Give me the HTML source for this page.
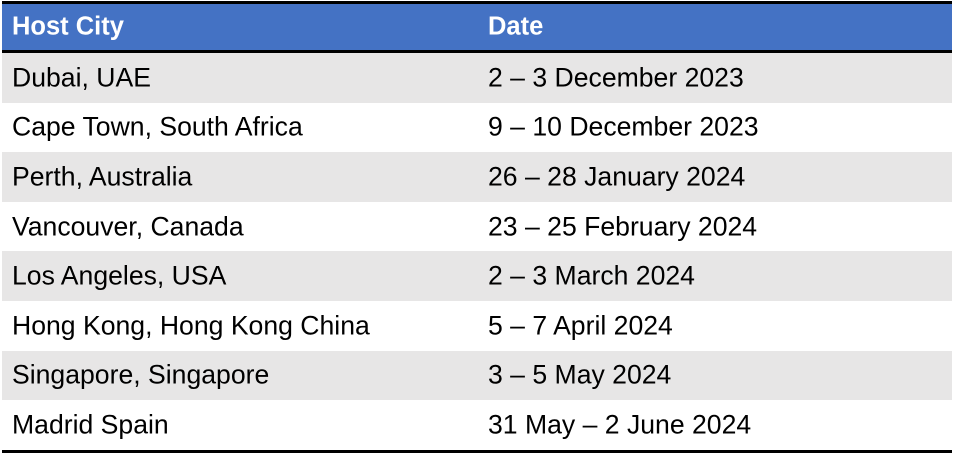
<!DOCTYPE html>
<html><head><meta charset="utf-8"><style>
html,body{margin:0;padding:0;width:954px;height:454px;background:#fff;overflow:hidden}
.t{position:absolute;left:2px;top:1px;width:950px;border-top:3px solid #000;border-bottom:3px solid #000}
.r{position:relative;height:49.6px;font-family:"Liberation Sans",Arial,sans-serif;font-size:26.6px;color:#000}
.r span{position:absolute;top:50%;transform:translateY(-50%);white-space:nowrap}
.c1{left:10px}.c2{left:486px}
.h{background:#4472C4;color:#fff;font-weight:bold;height:46px;border-bottom:3px solid #000;font-size:25.5px}
.g{background:#E7E6E6}.w{background:#fff}
</style></head><body>
<div class="t">
<div class="r h"><span class="c1">Host City</span><span class="c2">Date</span></div>
<div class="r g"><span class="c1">Dubai, UAE</span><span class="c2">2 – 3 December 2023</span></div>
<div class="r w"><span class="c1">Cape Town, South Africa</span><span class="c2">9 – 10 December 2023</span></div>
<div class="r g"><span class="c1">Perth, Australia</span><span class="c2">26 – 28 January 2024</span></div>
<div class="r w"><span class="c1">Vancouver, Canada</span><span class="c2">23 – 25 February 2024</span></div>
<div class="r g"><span class="c1">Los Angeles, USA</span><span class="c2">2 – 3 March 2024</span></div>
<div class="r w"><span class="c1">Hong Kong, Hong Kong China</span><span class="c2">5 – 7 April 2024</span></div>
<div class="r g"><span class="c1">Singapore, Singapore</span><span class="c2">3 – 5 May 2024</span></div>
<div class="r w"><span class="c1">Madrid Spain</span><span class="c2">31 May – 2 June 2024</span></div>
</div>
</body></html>
